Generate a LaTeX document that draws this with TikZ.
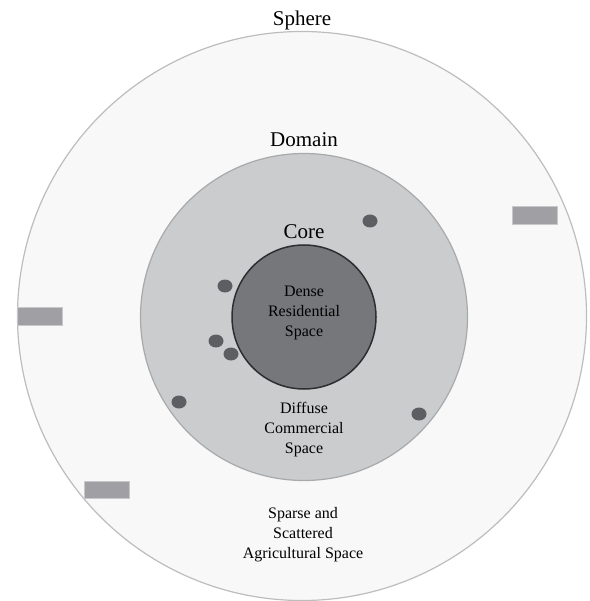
\documentclass[tikz,border=0pt]{standalone}
\usepackage{fontspec}
\setmainfont{Liberation Serif}
\definecolor{spherefill}{HTML}{F8F8F8}
\definecolor{sphereline}{HTML}{BDBDBF}
\definecolor{domainfill}{HTML}{CBCCCE}
\definecolor{domainline}{HTML}{A8A9AB}
\definecolor{corefill}{HTML}{76777B}
\definecolor{coreline}{HTML}{2E2E30}
\definecolor{spotfill}{HTML}{5D5E62}
\definecolor{plotfill}{HTML}{A0A0A4}
\definecolor{plotline}{HTML}{C8C8CA}
\tikzset{
  zonename/.style={font=\fontsize{21}{24}\selectfont,anchor=base},
  zonetext/.style={font=\fontsize{16}{20}\selectfont,align=center},
  plot/.style={fill=plotfill,draw=plotline,line width=0.6pt}
}
\begin{document}
\begin{tikzpicture}[x=1pt,y=-1pt]
        \useasboundingbox (0,0) rectangle (589,601);
        %\draw [very thin, green]  (0,0) grid[step=50] (589,601);
        \node at (302,316) [circle,draw=sphereline,fill=spherefill,line width=1.2pt,minimum size=569pt] (sphere) {};
        \node at (304,317) [circle,draw=domainline,fill=domainfill,line width=1.2pt,minimum size=327pt] (domain) {};
        \node at (304,317) [circle,draw=coreline,fill=corefill,line width=1.5pt,minimum size=144pt] (core) {};

        \node at (302,26) [zonename] (spherelbl) {Sphere};
        \node at (304,147) [zonename] (domainlbl) {Domain};
        \node at (304,239) [zonename] (corelbl) {Core};

        \node at (304,313) [zonetext] (dense) {Dense\\Residential\\Space};
        \node at (304,430) [zonetext] (diffuse) {Diffuse\\Commercial\\Space};
        \node at (303,535) [zonetext] (sparse) {Sparse and\\Scattered\\Agricultural Space};

        \foreach \x/\y in {370/221, 225/286, 216/341, 231/354, 179/402, 419/414}
            \fill [spotfill] (\x,\y) ellipse (7.5 and 6.5);

        \draw [plot] (512,206) rectangle (557,224);
        \draw [plot] (17,307) rectangle (62,325);
        \draw [plot] (84,481) rectangle (129,498);
\end{tikzpicture}
\end{document}
